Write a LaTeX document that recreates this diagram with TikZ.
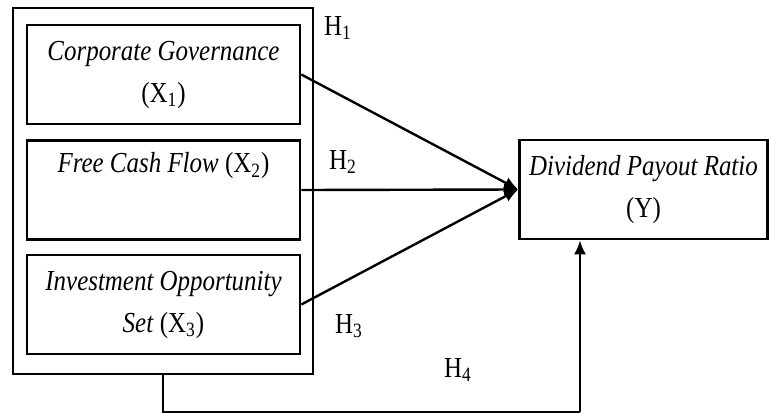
\documentclass[tikz,border=0pt]{standalone}
\usepackage{fontspec}
\setmainfont[FakeStretch=0.86]{Liberation Serif}
\usetikzlibrary{arrows.meta,positioning}
\tikzset{
  box/.style={draw=black, line width=1.3pt, align=center, font=\fontsize{14.5}{21}\selectfont, inner sep=0pt},
  varbox/.style={box, minimum width=136.5pt, minimum height=49.5pt},
  frame/.style={draw=black, line width=1.3pt, inner sep=0pt},
  arrow/.style={-{Latex[length=7pt,width=6pt]}, line width=1.2pt},
  line/.style={line width=1.2pt},
  hyp/.style={font=\fontsize{14.5}{16}\selectfont, inner sep=0pt}
}
\begin{document}
\begin{tikzpicture}[x=0.5pt, y=-0.5pt]
\useasboundingbox (0,0) rectangle (769,412);
\node[frame, minimum width=150pt, minimum height=183pt] (outer) at (163,191) {};
\node[varbox] (cg) at (163.5,74.5) {\textit{Corporate Governance}\\(X\textsubscript{1})};
\node[varbox] (fcf) at (163.5,190) {\textit{Free Cash Flow} (X\textsubscript{2})\\\strut};
\node[varbox] (ios) at (163.5,304.5) {\textit{Investment Opportunity}\\\textit{Set} (X\textsubscript{3})};
\node[box, minimum width=124pt, minimum height=49.5pt] (dpr) at (643.5,189.5) {\textit{Dividend Payout Ratio}\\(Y)};
\node[hyp] (h1) at (338,28) {H\textsubscript{1}};
\node[hyp] (h2) at (343,162) {H\textsubscript{2}};
\node[hyp] (h3) at (349,326) {H\textsubscript{3}};
\node[hyp] (h4) at (458,370) {H\textsubscript{4}};
\coordinate (c1) at (163,412.3);
\coordinate (c2) at (580,412.3);
\foreach \v in {cg,fcf,ios} {\draw[arrow] (\v.east) -- (dpr.west);}
\draw[line] (outer.south) -- (c1) -- (c2);
\draw[arrow] (c2) -- (c2 |- dpr.south);
\end{tikzpicture}
\end{document}
